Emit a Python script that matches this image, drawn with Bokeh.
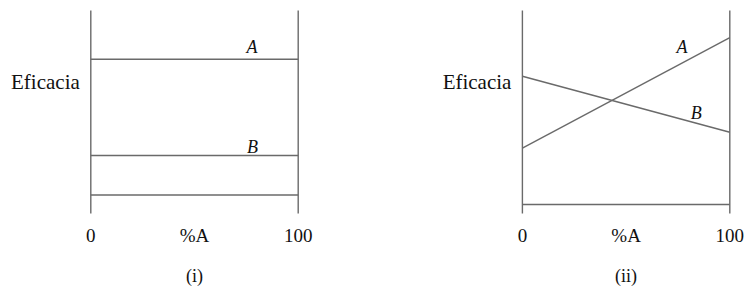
from bokeh.plotting import figure
from bokeh.layouts import row
from bokeh.models import Range1d
from bokeh.core.properties import value
from bokeh.embed import file_html
from bokeh.resources import INLINE

# ---- data ----
pct_A = [0, 100]                      # % A, ends of the x domain
axis_top = [0, 100]                   # vertical extent of the side lines
eff_A_i = [76.0, 76.0]
eff_B_i = [28.6, 28.6]
base_i = [9.1, 9.1]
eff_A_ii = [32.2, 86.6]
eff_B_ii = [67.6, 40.0]
base_ii = [4.4, 4.4]
tick_values = [0, 50, 100]
tick_labels = ["0", "%A", "100"]
panel_titles = ["(i)", "(ii)"]
y_label = "Eficacia"
series_names = ["A", "B"]

# ---- style ----
FONT = value("Liberation Serif")
LINE = "#6a6a6a"
TXT = "#111111"
W, H = 373, 291
PX_PER_Y = 2.03
Y0_LOCAL = 213.0  # local pixel row of y = 0


def make_panel(x0_px, x100_px, a, b, base, title, lab_pos):
    sx = (x100_px - x0_px) / 100.0
    p = figure(width=W, height=H, output_backend="svg", toolbar_location=None,
               x_axis_type=None, y_axis_type=None, min_border=0,
               x_range=Range1d(-x0_px / sx, (W - x0_px) / sx),
               y_range=Range1d(-(H - Y0_LOCAL) / PX_PER_Y, 100 + (Y0_LOCAL - 100 * PX_PER_Y) / PX_PER_Y))
    p.outline_line_color = None
    p.background_fill_color = "white"
    p.border_fill_color = "white"
    # side lines at 0 and 100
    for xv in pct_A:
        p.line([xv, xv], axis_top, line_color=LINE, line_width=1.4)
    p.line(pct_A, base, line_color=LINE, line_width=1.4)
    p.line(pct_A, a, line_color=LINE, line_width=1.4)
    p.line(pct_A, b, line_color=LINE, line_width=1.4)
    # series labels
    (ax, ay), (bx, by) = lab_pos
    p.text([ax, bx], [ay, by], text=series_names, text_font=FONT,
           text_font_style="italic", text_font_size="18px", text_color=TXT,
           text_align="center", text_baseline="alphabetic")
    # y label
    p.text([-5.3], [65.0], text=[y_label], text_font=FONT, text_font_size="21px",
           text_color=TXT, text_align="right", text_baseline="alphabetic")
    # tick labels
    p.text(tick_values, [-10.6] * 3, text=tick_labels, text_font=FONT,
           text_font_size="19px", text_color=TXT, text_align="center",
           text_baseline="middle")
    # panel title
    p.text([50], [-31.0], text=[title], text_font=FONT, text_font_size="18px",
           text_color=TXT, text_align="center", text_baseline="middle")
    return p


p1 = make_panel(90.3, 297.7, eff_A_i, eff_B_i, base_i, panel_titles[0],
                [(77.7, 82.2), (78.0, 33.0)])
p2 = make_panel(148.9, 356.3, eff_A_ii, eff_B_ii, base_ii, panel_titles[1],
                [(76.9, 82.0), (83.8, 49.4)])

layout = row(p1, p2)
open("out.html", "w").write(file_html(layout, INLINE))
